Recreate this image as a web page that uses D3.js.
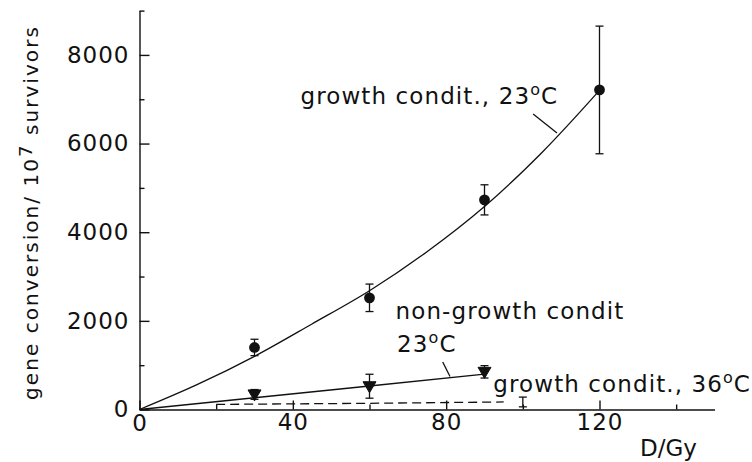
<!DOCTYPE html>
<html>
<head>
<meta charset="utf-8">
<script src="https://cdn.jsdelivr.net/npm/d3@7"></script>
<style>
  html, body { margin: 0; padding: 0; background: #fff; }
  svg text { font-family: "DejaVu Sans", sans-serif; fill: #111; }
</style>
</head>
<body>
<svg id="chart" width="752" height="462"></svg>
<script>
// Dose (Gy) and gene conversion per 10^7 survivors
const growth23Dose = [30, 60, 90, 120];
const growth23Value = [1400, 2520, 4730, 7210];
const growth23Err = [185, 310, 340, 1440];

const growth23FitDose = [0, 15, 30, 45, 60, 75, 90, 105, 120];
const growth23FitValue = [0, 560, 1200, 1930, 2680, 3560, 4580, 5800, 7200];

const nonGrowthDose = [30, 60, 90];
const nonGrowthValue = [340, 525, 850];
const nonGrowthErr = [110, 270, 140];

const nonGrowthLineDose = [0, 30, 60, 90];
const nonGrowthLineValue = [0, 265, 530, 800];

const growth36LineDose = [20, 60, 95];
const growth36LineValue = [115, 140, 170];
const growth36ErrDose = [100];
const growth36ErrValue = [170];
const growth36Err = [110];

const xMajorTicks = [0, 40, 80, 120];
const xMinorTicks = [20, 60, 100, 140];
const yMajorTicks = [0, 2000, 4000, 6000, 8000];
const yMinorTicks = [1000, 3000, 5000, 7000, 9000];

const svg = d3.select("#chart");
const x = d3.scaleLinear().domain([0, 150]).range([139.5, 714.5]);
const y = d3.scaleLinear().domain([0, 9000]).range([409.5, 10.6]);

const ink = "#111";
const FS = 23;

// Axes with inward ticks
const yAxis = svg.append("g").attr("transform", `translate(${x(0)},0)`)
  .call(d3.axisLeft(y).tickValues(yMajorTicks).tickSizeInner(-10).tickSizeOuter(0)
        .tickPadding(10).tickFormat(d3.format("d")));
svg.append("g").attr("transform", `translate(${x(0)},0)`)
  .call(d3.axisLeft(y).tickValues(yMinorTicks).tickSizeInner(-5).tickSizeOuter(0).tickFormat(""))
  .select(".domain").remove();

const xAxis = svg.append("g").attr("transform", `translate(0,${y(0)})`)
  .call(d3.axisBottom(x).tickValues(xMajorTicks).tickSizeInner(-9).tickSizeOuter(0)
        .tickPadding(4).tickFormat(d3.format("d")));
svg.append("g").attr("transform", `translate(0,${y(0)})`)
  .call(d3.axisBottom(x).tickValues(xMinorTicks).tickSizeInner(-5).tickSizeOuter(0).tickFormat(""))
  .select(".domain").remove();

svg.selectAll(".domain, .tick line").attr("stroke", ink).attr("stroke-width", 1.4);
[yAxis, xAxis].forEach(g => g.selectAll(".tick text")
  .attr("font-size", FS).attr("font-family", "DejaVu Sans, sans-serif")
  .attr("fill", ink).attr("letter-spacing", 1));
xAxis.selectAll(".tick").filter(d => d === 0).select("text").attr("dy", "0.78em");

// Axis titles
svg.append("text")
  .attr("transform", `translate(38,${(402 + 23) / 2}) rotate(-90)`)
  .attr("text-anchor", "middle").attr("font-size", 20).attr("letter-spacing", 2.05)
  .call(t => {
    t.append("tspan").text("gene conversion/ 10");
    t.append("tspan").attr("font-size", 18).attr("dy", -6).text("7");
    t.append("tspan").attr("dy", 6).text(" survivors");
  });

svg.append("text").attr("x", 640).attr("y", 456).attr("font-size", FS).text("D/Gy");

// Fitted curves
const line = d3.line().x(d => x(d[0])).y(d => y(d[1]));
svg.append("path")
  .attr("d", line.curve(d3.curveCatmullRom)(d3.zip(growth23FitDose, growth23FitValue)))
  .attr("fill", "none").attr("stroke", ink).attr("stroke-width", 1.3);
svg.append("path")
  .attr("d", line.curve(d3.curveLinear)(d3.zip(nonGrowthLineDose, nonGrowthLineValue)))
  .attr("fill", "none").attr("stroke", ink).attr("stroke-width", 1.3);
svg.append("path")
  .attr("d", line.curve(d3.curveLinear)(d3.zip(growth36LineDose, growth36LineValue)))
  .attr("fill", "none").attr("stroke", ink).attr("stroke-width", 1.3)
  .attr("stroke-dasharray", "9,5");

// Error bars
function errorBars(doses, values, errs) {
  const g = svg.append("g").attr("stroke", ink).attr("stroke-width", 1.3);
  doses.forEach((d, i) => {
    const cx = x(d), top = y(values[i] + errs[i]), bot = y(values[i] - errs[i]);
    g.append("line").attr("x1", cx).attr("x2", cx).attr("y1", top).attr("y2", bot);
    g.append("line").attr("x1", cx - 4).attr("x2", cx + 4).attr("y1", top).attr("y2", top);
    g.append("line").attr("x1", cx - 4).attr("x2", cx + 4).attr("y1", bot).attr("y2", bot);
  });
}
errorBars(growth23Dose, growth23Value, growth23Err);
errorBars(nonGrowthDose, nonGrowthValue, nonGrowthErr);
errorBars(growth36ErrDose, growth36ErrValue, growth36Err);

// Markers
svg.append("g").selectAll("circle").data(d3.zip(growth23Dose, growth23Value)).join("circle")
  .attr("cx", d => x(d[0])).attr("cy", d => y(d[1])).attr("r", 5.4).attr("fill", ink);
svg.append("g").selectAll("path").data(d3.zip(nonGrowthDose, nonGrowthValue)).join("path")
  .attr("transform", d => `translate(${x(d[0])},${y(d[1])})`)
  .attr("d", "M-6.5,-4.5 L6.5,-4.5 L0,6.5 Z").attr("fill", ink)
  .attr("stroke", ink).attr("stroke-width", 1).attr("stroke-linejoin", "round");

// Leader lines
const leaders = [
  [[102.7, 6667], [108.9, 6238]],
  [[79.1, 1072], [81.0, 745]]
];
svg.append("g").selectAll("line").data(leaders).join("line")
  .attr("x1", d => x(d[0][0])).attr("y1", d => y(d[0][1]))
  .attr("x2", d => x(d[1][0])).attr("y2", d => y(d[1][1]))
  .attr("stroke", ink).attr("stroke-width", 1.3);

// Curve labels; a small raised "o" serves as the degree sign
function label(dose, value, parts) {
  const t = svg.append("text").attr("x", x(dose)).attr("y", y(value))
    .attr("font-size", FS).attr("letter-spacing", 1.1);
  let raised = false;
  parts.forEach(p => {
    if (p.sup) {
      t.append("tspan").attr("font-size", 16).attr("dy", -9).text(p.sup);
      raised = true;
    } else {
      const s = t.append("tspan").text(p.text);
      if (raised) { s.attr("dy", 9); raised = false; }
    }
  });
}
label(42.0, 6893, [{text: "growth condit., 23"}, {sup: "o"}, {text: "C"}]);
label(66.8, 2035, [{text: "non-growth condit"}]);
label(67.2, 1304, [{text: "23"}, {sup: "o"}, {text: "C"}]);
label(92.3, 402, [{text: "growth condit., 36"}, {sup: "o"}, {text: "C"}]);
</script>
</body>
</html>
